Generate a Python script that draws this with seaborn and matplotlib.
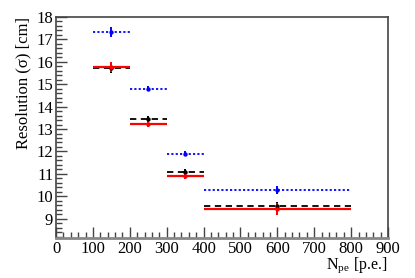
import matplotlib
matplotlib.use("Agg")
import matplotlib.pyplot as plt
import seaborn as sns
import pandas as pd
from matplotlib.ticker import MultipleLocator

bin_low = [100, 200, 300, 400]
bin_high = [200, 300, 400, 800]
centers = [150, 250, 350, 600]

blue_vals = [17.31, 14.79, 11.90, 10.30]
blue_err = [0.23, 0.12, 0.12, 0.18]
black_vals = [15.70, 13.43, 11.10, 9.57]
black_err = [0.20, 0.13, 0.13, 0.20]
red_vals = [15.76, 13.23, 10.92, 9.45]
red_err = [0.22, 0.13, 0.14, 0.26]

sns.set_theme(style="white")
plt.rcParams['font.family'] = ['Liberation Serif', 'DejaVu Serif']
plt.rcParams['mathtext.fontset'] = 'stix'

fig = plt.figure(figsize=(4.15, 2.78), dpi=100)
ax = fig.add_axes([0.135, 0.144, 0.800, 0.796])

series = [
    (blue_vals, blue_err, "#0000ff", (0, (1.2, 1.2)), 1.3),
    (black_vals, black_err, "#000000", (0, (3.5, 2.5)), 1.3),
    (red_vals, red_err, "#ff0000", "-", 1.6),
]
for vals, errs, col, ls, lw in series:
    ax.hlines(vals, bin_low, bin_high, colors=col, linestyles=[ls], linewidth=lw, zorder=2)
    ax.errorbar(centers, vals, yerr=errs, fmt="none", ecolor=col, elinewidth=1.4, zorder=3)
    df = pd.DataFrame({"x": centers, "y": vals})
    sns.scatterplot(data=df, x="x", y="y", ax=ax, color=col, s=10, marker="o",
                    edgecolor=col, linewidth=0, zorder=4, legend=False)

ax.set_xlim(0, 900)
ax.set_ylim(8.15, 18)
ax.xaxis.set_major_locator(MultipleLocator(100))
ax.xaxis.set_minor_locator(MultipleLocator(20))
ax.yaxis.set_major_locator(MultipleLocator(1))
ax.yaxis.set_minor_locator(MultipleLocator(0.2))
ax.set_yticks(range(9, 19))
ax.set_yticklabels([str(v) for v in range(9, 19)])
ax.tick_params(which="both", direction="in", top=False, right=False, left=True, bottom=True,
               colors="#444444", labelcolor="black", labelsize=12)
ax.tick_params(which="major", length=8, width=1.0, pad=2)
ax.tick_params(which="minor", length=4, width=1.0)
for sp in ax.spines.values():
    sp.set_color("#444444")
    sp.set_linewidth(1.2)
ax.spines["bottom"].set_color("#888888")
ax.spines["bottom"].set_linewidth(2.0)

ax.set_xlabel(r"N$_{\mathregular{pe}}$ [p.e.]", fontsize=11.5, color="black")
ax.xaxis.set_label_coords(1.0, -0.08)
ax.xaxis.label.set_horizontalalignment("right")
ax.xaxis.label.set_verticalalignment("top")
ax.set_ylabel("Resolution (σ) [cm]", fontsize=12, loc="top", labelpad=4, color="black")

fig.savefig("out.png", dpi=100)
